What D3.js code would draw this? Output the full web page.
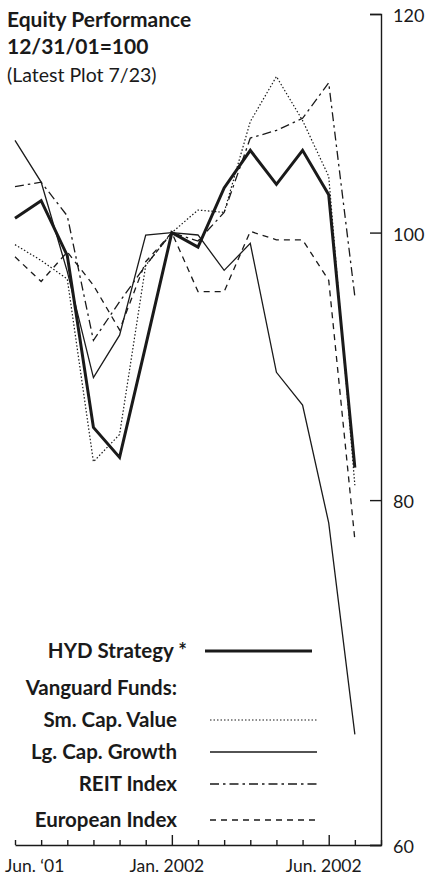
<!DOCTYPE html>
<html>
<head>
<meta charset="utf-8">
<script src="https://cdn.jsdelivr.net/npm/d3@7"></script>
<style>
	body { margin: 0; background: #fff; }
	text { font-family: Lato, "Open Sans", sans-serif; fill: #1a1a1a; }
</style>
</head>
<body>
<svg id="chart"></svg>
<script>
// month ends, last point is the latest plot (7/23)
const periods = ["6/01", "7/01", "8/01", "9/01", "10/01", "11/01", "12/01", "1/02", "2/02", "3/02", "4/02", "5/02", "6/02", "7/23"];

const hyd    = [101.2, 102.7, 98.1, 85.0, 82.9, 91.0, 100, 98.8, 103.8, 107.1, 104.1, 107.1, 103.2, 82.2];
const smCap  = [99.0, 97.7, 96.2, 82.6, 84.5, 97.3, 100, 101.9, 101.7, 109.7, 113.9, 109.8, 104.8, 81.0];
const lgCap  = [108.0, 104.3, 96.8, 88.6, 91.8, 99.8, 100, 99.8, 96.9, 99.1, 89.0, 86.6, 78.5, 65.8];
const reit   = [103.9, 104.3, 101.4, 91.4, 94.4, 97.3, 100, 99.3, 101.7, 108.2, 108.9, 110.0, 113.3, 94.8];
const europe = [98.0, 96.0, 98.4, 95.7, 92.2, 97.6, 100, 95.2, 95.2, 100.1, 99.4, 99.4, 96.1, 77.4];

const yTicks = [60, 80, 100, 120];
const xLabels = [
	{ i: 0, text: "Jun. \u201801" },
	{ i: 6, text: "Jan. 2002" },
	{ i: 12, text: "Jun. 2002" }
];
const majorTicks = [6, 12];

const titleLines = ["Equity Performance", "12/31/01=100", "(Latest Plot 7/23)"];
const seriesNames = ["HYD Strategy *", "Sm. Cap. Value", "Lg. Cap. Growth", "REIT Index", "European Index"];
const groupLabel = "Vanguard Funds:";

const width = 426, height = 878;

let series = [
	{ name: seriesNames[0], values: hyd,    width: 3,   dash: null },
	{ name: seriesNames[1], values: smCap,  width: 1.2, dash: "1.5,2" },
	{ name: seriesNames[2], values: lgCap,  width: 1.3, dash: null },
	{ name: seriesNames[3], values: reit,   width: 1.3, dash: "9,4,2.5,4" },
	{ name: seriesNames[4], values: europe, width: 1.3, dash: "6,5" }
];

let x = d3.scaleLinear()
	.domain([0, periods.length])
	.range([15, 381]);

let y = d3.scaleLog()
	.domain([60, 120])
	.range([845, 14]);

let svg = d3.select("#chart")
	.attr("width", width)
	.attr("height", height);

// title block
svg.append("g")
	.selectAll("text")
	.data(titleLines)
	.join("text")
	.attr("x", 7)
	.attr("y", (d, i) => [27, 54, 82][i])
	.attr("font-size", (d, i) => i < 2 ? 21 : 19.5)
	.attr("font-weight", (d, i) => i < 2 ? "bold" : "normal")
	.attr("fill", (d, i) => i < 2 ? "#1a1a1a" : "#333")
	.text(d => d);

// right axis: ticks point inward, labels outside
svg.append("g")
	.attr("transform", "translate(381,0)")
	.call(d3.axisLeft(y).tickValues(yTicks).tickSize(11).tickFormat(""))
	.call(g => g.selectAll("path, line").attr("stroke", "#1a1a1a").attr("stroke-width", 1.4));

svg.append("g")
	.attr("transform", "translate(381,0)")
	.call(d3.axisRight(y).tickValues(yTicks).tickSize(0).tickPadding(12).tickFormat(d3.format("d")))
	.call(g => g.select(".domain").remove())
	.call(g => g.selectAll("text")
		.attr("font-size", 18)
		.attr("font-family", "Lato, 'Open Sans', sans-serif")
		.attr("fill", "#333")
		.attr("dy", "0.42em"));

// bottom axis, tick per period
let xAxis = svg.append("g")
	.attr("transform", "translate(0,845)")
	.call(d3.axisTop(x).tickValues(d3.range(0, periods.length + 1)).tickSize(5).tickSizeOuter(0).tickFormat(""));
xAxis.selectAll("path, line").attr("stroke", "#1a1a1a").attr("stroke-width", 1.4);
xAxis.selectAll(".tick line")
	.filter(d => majorTicks.includes(d))
	.attr("y2", -10);

svg.append("g")
	.selectAll("text")
	.data(xLabels)
	.join("text")
	.attr("x", d => d.i == 0 ? 5 : x(d.i) - 5)
	.attr("y", 872)
	.attr("text-anchor", d => d.i == 0 ? "start" : "middle")
	.attr("font-size", 17.5)
	.attr("fill", "#333")
	.text(d => d.text);

// series lines
let line = d3.line()
	.x((d, i) => x(i))
	.y(d => y(d));

svg.append("g")
	.selectAll("path")
	.data(series.slice().reverse())
	.join("path")
	.attr("d", d => line(d.values))
	.attr("fill", "none")
	.attr("stroke", "#1a1a1a")
	.attr("stroke-width", d => d.width)
	.attr("stroke-dasharray", d => d.dash)
	.attr("stroke-linejoin", "miter");

// legend
let legendRows = [
	{ label: seriesNames[0], s: series[0], y: 651, textX: 187 },
	{ label: groupLabel, s: null, y: 688, textX: 177 },
	{ label: seriesNames[1], s: series[1], y: 720, textX: 177 },
	{ label: seriesNames[2], s: series[2], y: 752, textX: 177 },
	{ label: seriesNames[3], s: series[3], y: 784, textX: 177 },
	{ label: seriesNames[4], s: series[4], y: 820, textX: 177 }
];

let legend = svg.append("g")
	.selectAll("g")
	.data(legendRows)
	.join("g")
	.attr("transform", d => "translate(0," + d.y + ")");

legend.append("text")
	.attr("x", d => d.textX)
	.attr("dy", "0.36em")
	.attr("text-anchor", "end")
	.attr("font-size", 20.5)
	.attr("font-weight", "bold")
	.text(d => d.label);

legend.filter(d => d.s != null)
	.append("line")
	.attr("x1", d => d.s.width > 2 ? 205 : 210)
	.attr("x2", d => d.s.width > 2 ? 312 : 317)
	.attr("stroke", "#1a1a1a")
	.attr("stroke-width", d => d.s.width)
	.attr("stroke-dasharray", d => d.s.dash);
</script>
</body>
</html>
